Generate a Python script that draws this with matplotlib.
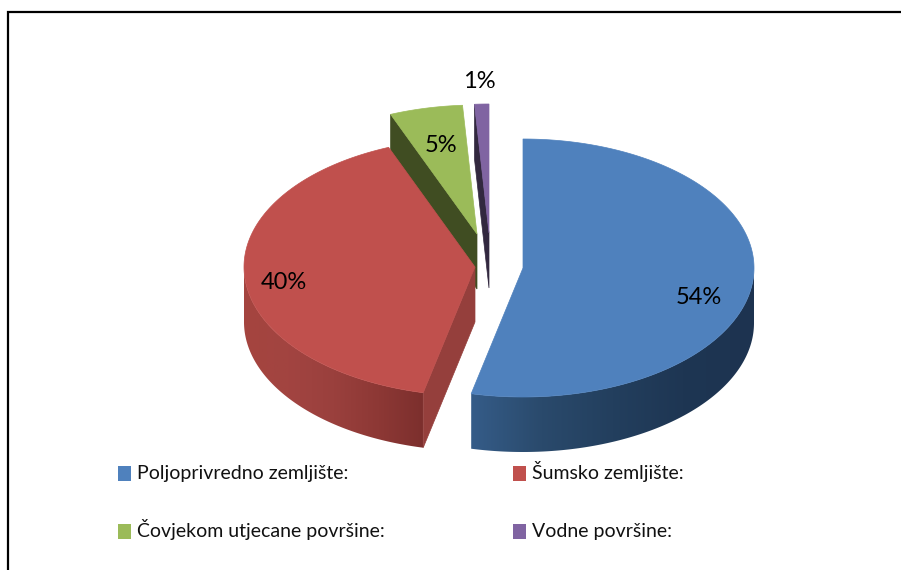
import numpy as np
import matplotlib.pyplot as plt
from matplotlib.colors import LinearSegmentedColormap
from matplotlib.patches import Polygon, Rectangle

plt.rcParams['font.family'] = ['Lato', 'DejaVu Sans']

labels = ['Poljoprivredno zemljište:', 'Šumsko zemljište:',
          'Čovjekom utjecane površine:', 'Vodne površine:']
values = [53.6, 40.3, 5.1, 1.0]
colors = ['#4f81bd', '#c0504d', '#9bbb59', '#8064a2']
face_colors = [None, '#953f3c', '#404d22', '#32283f']

# pie layout in image pixels
rx, ry, depth = 231, 129, 55
centers = [(523, 268), (475, 267), (477, 234), (489, 233)]
label_pos = [(699, 304), (284, 289), (441, 152), (479, 88)]
wall_stops = {0: ['#355c88', '#2a4a6c', '#233f5e', '#1e3653', '#1d3350'],
              1: ['#a5443f', '#a24441', '#9a403d', '#8d3835', '#7c2f2d']}


def arc(cx, cy, a0, a1):
    t = np.radians(np.linspace(a0, a1, 200))
    return np.column_stack([cx + rx * np.sin(t), cy - ry * np.cos(t)])


fig = plt.figure(figsize=(9.01, 5.70), dpi=100)
ax = fig.add_axes([0, 0, 1, 1])

angles = np.cumsum([0] + values) * 3.6
# back slices first so the big ones cover them
for i in [3, 2, 1, 0]:
    cx, cy = centers[i]
    a0, a1 = angles[i], angles[i + 1]
    top = arc(cx, cy, a0, a1)
    apex = np.array([cx, cy])
    drop = np.array([0, depth])

    # outer wall, only the front half of the pie shows it
    w0, w1 = max(a0, 90), min(a1, 270)
    if w0 < w1:
        edge = arc(cx, cy, w0, w1)
        wall = Polygon(np.vstack([edge, (edge + drop)[::-1]]), closed=True,
                       transform=ax.transData, fc='none', ec='none')
        ax.add_patch(wall)
        cmap = LinearSegmentedColormap.from_list('wall', wall_stops[i])
        xs = edge[:, 0]
        grad = np.linspace(0, 1, 256).reshape(1, -1)
        img = ax.imshow(grad, cmap=cmap, aspect='auto', zorder=5 - i,
                        extent=[xs.min(), xs.max(), edge[:, 1].max() + depth,
                                edge[:, 1].min()])
        img.set_clip_path(wall)

    # cut face towards the viewer
    if face_colors[i]:
        p = top[0]
        ax.add_patch(Polygon([apex, p, p + drop, apex + drop], closed=True,
                             fc=face_colors[i], ec=face_colors[i], lw=0.5,
                             zorder=5 - i))

    ax.add_patch(Polygon(np.vstack([apex, top]), closed=True, fc=colors[i],
                         ec=colors[i], lw=0.5, zorder=5.5 - i))

for v, (x, y) in zip(values, label_pos):
    ax.text(x, y, f'{round(v)}%', ha='center', va='baseline', fontsize=17,
            color='black', zorder=10)

# legend
leg_pos = [(118, 466), (513, 466), (118, 524), (513, 524)]
for lab, c, (x, y) in zip(labels, colors, leg_pos):
    ax.add_patch(Rectangle((x, y), 13, 15, fc=c, ec='none'))
    ax.text(x + 19, y + 13, lab, ha='left', va='baseline', fontsize=14,
            color='#111111')

# frame, only top and left are in the crop
ax.plot([8, 8, 901], [570, 11.5, 11.5], color='black', lw=1.6,
        solid_joinstyle='miter')

ax.set_xlim(0, 901)
ax.set_ylim(570, 0)
ax.axis('off')
fig.savefig('out.png', dpi=100)
